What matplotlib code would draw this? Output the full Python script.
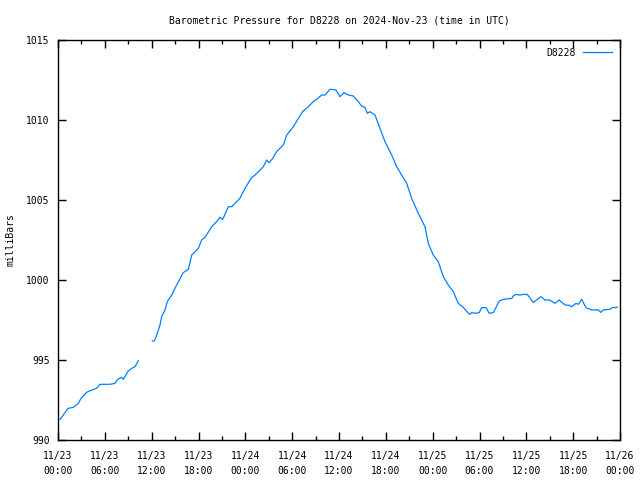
import numpy as np
import matplotlib
matplotlib.use("Agg")
import matplotlib.pyplot as plt

# horas desde 11/23 00:00 UTC y presion en mb (nan = hueco sin datos)
horas = [0.26, 1.3, 1.97, 2.6, 2.95, 3.67, 4.3, 4.95, 5.38, 5.93, 6.66, 7.3, 7.64,
         8.15, 8.37, 8.93, 9.44, 9.86, 10.3, 11.2,
         12.08, 12.34, 12.64, 13.07, 13.28, 13.71, 14.0, 14.56, 15.2, 16.05, 16.7,
         17.13, 17.98, 18.4, 18.83, 19.69, 20.33, 20.75, 21.1, 21.82, 22.25, 23.3,
         23.96, 24.8, 25.24, 26.3, 26.73, 27.07, 27.6, 28.0, 28.87, 29.3, 30.15,
         30.8, 31.34, 32.07, 32.7, 33.14, 33.78, 34.2, 34.85, 35.6, 36.13, 36.64,
         37.19, 37.83, 38.47, 38.9, 39.33, 39.62, 39.97, 40.61, 41.25, 41.89, 42.75,
         43.39, 44.03, 44.67, 45.31, 46.16, 47.01, 47.44, 48.08, 48.72, 49.36, 50.0,
         50.64, 51.28, 51.92, 52.7, 53.0, 53.42, 53.97, 54.27, 54.83, 55.25, 55.77,
         56.54, 57.05, 58.12, 58.33, 58.67, 59.18, 59.61, 60.12, 60.89, 61.32,
         61.87, 62.39, 63.0, 63.67, 64.2, 64.95, 65.5, 65.8, 66.36, 66.66, 67.09,
         67.64, 68.37, 69.22, 69.52, 69.86, 70.72, 71.06, 71.4, 71.65]
presion = [991.29, 991.98, 992.04, 992.29, 992.6, 992.98, 993.12, 993.23, 993.48,
           993.48, 993.48, 993.54, 993.79, 993.92, 993.79, 994.27, 994.48, 994.58,
           994.96, np.nan,
           996.19, 996.19, 996.56, 997.19, 997.71, 998.12, 998.65, 999.06, 999.69,
           1000.46, 1000.67, 1001.56, 1001.98, 1002.5, 1002.67, 1003.33, 1003.65,
           1003.92, 1003.79, 1004.58, 1004.58, 1005.1, 1005.73, 1006.4, 1006.56,
           1007.08, 1007.5, 1007.33, 1007.67, 1008.02, 1008.44, 1009.06, 1009.58,
           1010.1, 1010.52, 1010.83, 1011.15, 1011.29, 1011.56, 1011.56, 1011.92,
           1011.88, 1011.46, 1011.71, 1011.56, 1011.5, 1011.15, 1010.87, 1010.79,
           1010.42, 1010.52, 1010.31, 1009.48, 1008.65, 1007.81, 1007.08, 1006.56,
           1006.04, 1005.1, 1004.17, 1003.33, 1002.29, 1001.56, 1001.15, 1000.21,
           999.69, 999.27, 998.54, 998.29, 997.85, 997.96, 997.92, 997.96, 998.27,
           998.27, 997.92, 997.96, 998.69, 998.79, 998.85, 999.0, 999.1, 999.06,
           999.1, 999.1, 998.6, 998.75, 998.96, 998.75, 998.75, 998.54, 998.75,
           998.44, 998.42, 998.33, 998.54, 998.48, 998.79, 998.27, 998.13, 998.13,
           997.98, 998.13, 998.17, 998.29, 998.27, 998.31]

ticks_x = [0, 6, 12, 18, 24, 30, 36, 42, 48, 54, 60, 66, 72]
etiquetas_x = ["11/23\n00:00", "11/23\n06:00", "11/23\n12:00", "11/23\n18:00",
               "11/24\n00:00", "11/24\n06:00", "11/24\n12:00", "11/24\n18:00",
               "11/25\n00:00", "11/25\n06:00", "11/25\n12:00", "11/25\n18:00",
               "11/26\n00:00"]
ticks_y = [990, 995, 1000, 1005, 1010, 1015]

plt.rcParams["font.family"] = ["DejaVu Sans Mono"]
plt.rcParams["font.size"] = 7

fig = plt.figure(figsize=(6.4, 4.8), dpi=100)
ax = fig.add_axes([58 / 640, 40 / 480, 562 / 640, 400 / 480])

ax.plot(horas, presion, color="#0080ff", linewidth=0.9, label="D8228")
ax.set_xlim(0, 72)
ax.set_ylim(990, 1015)
ax.set_xticks(ticks_x)
ax.set_xticklabels(etiquetas_x, linespacing=1.55)
ax.set_xticks(np.arange(3, 72, 6), minor=True)
ax.set_yticks(ticks_y)
ax.tick_params(axis="x", direction="in", top=True, length=6, width=1, pad=8)
ax.tick_params(axis="y", direction="in", right=True, length=6, width=1, pad=6)
ax.tick_params(which="minor", direction="in", top=True, length=3, width=1)
for s in ax.spines.values():
    s.set_linewidth(1)

ax.set_ylabel("milliBars", fontsize=7, labelpad=8)
ax.set_title("Barometric Pressure for D8228 on 2024-Nov-23 (time in UTC)",
             fontsize=7, pad=12)
leg = ax.legend(loc="upper right", frameon=False, markerfirst=False,
                handlelength=3.0, handletextpad=0.8, borderaxespad=0.4)

fig.savefig("out.png", dpi=100)
